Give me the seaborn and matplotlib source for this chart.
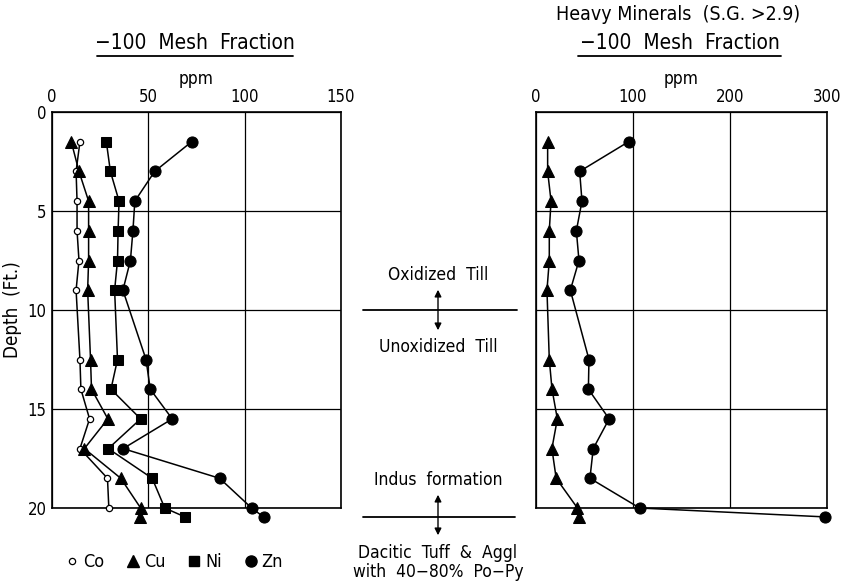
import matplotlib
matplotlib.use("Agg")
import matplotlib.pyplot as plt
import seaborn as sns
import pandas as pd
from matplotlib.lines import Line2D
from matplotlib.patches import FancyArrowPatch

# ---------------- data ----------------
depth = [1.5, 3, 4.5, 6, 7.5, 9, 12.5, 14, 15.5, 17, 18.5, 20, 20.45]
depth_co = depth[:12]

co_mesh = [14.5, 12.5, 13, 13, 14, 12.5, 14.5, 15, 19.5, 14.5, 28.8, 29.5]
cu_mesh = [10, 14, 19, 19, 19, 18.5, 20, 20.5, 29, 16.8, 35.7, 46, 45.6]
ni_mesh = [28.2, 30.3, 34.8, 34.3, 34, 32.5, 34, 30.6, 46, 29.2, 52, 58.5, 69]
zn_mesh = [72.5, 53.3, 43, 42, 40.7, 36.8, 48.8, 51, 62.4, 36.9, 87, 103.6, 109.8]

cu_heavy = [12, 12, 15.5, 13.7, 13.7, 11.3, 13.7, 16.5, 22, 16.4, 20.8, 42.7, 44.7]
zn_heavy = [95.5, 45, 47.4, 41.6, 44.3, 35.4, 54.6, 54, 75.4, 59, 55.6, 106.8, 298]

left_xticks = [0, 50, 100, 150]
right_xticks = [0, 100, 200, 300]
depth_ticks = [0, 5, 10, 15, 20]

# ---------------- style ----------------
sns.set_theme(style="white")
plt.rcParams["font.family"] = ["DejaVu Sans"]
plt.rcParams["font.stretch"] = "condensed"
for k in ("axes.edgecolor", "text.color", "xtick.color", "ytick.color", "axes.labelcolor"):
    plt.rcParams[k] = "black"

W, H = 844, 584
fig = plt.figure(figsize=(W / 100, H / 100), dpi=100)

def fx(px):
    return px / W

def fy(py):
    return 1 - py / H

ax1 = fig.add_axes([fx(52), fy(508), fx(341) - fx(52), fy(112) - fy(508)])
ax2 = fig.add_axes([fx(536), fy(508), fx(827) - fx(536), fy(112) - fy(508)])

styles = {
    "Co": dict(marker="o", markersize=4.5, markerfacecolor="white", markeredgecolor="black", markeredgewidth=0.9),
    "Cu": dict(marker="^", markersize=9, markerfacecolor="black", markeredgecolor="black"),
    "Ni": dict(marker="s", markersize=7.5, markerfacecolor="black", markeredgecolor="black"),
    "Zn": dict(marker="o", markersize=8, markerfacecolor="black", markeredgecolor="black"),
}

def draw(ax, x, y, name):
    df = pd.DataFrame({"ppm": x, "depth": y})
    sns.lineplot(data=df, x="ppm", y="depth", orient="y", sort=False, ax=ax,
                 color="black", lw=1.1, clip_on=False, zorder=5, **styles[name])

draw(ax1, co_mesh, depth_co, "Co")
draw(ax1, cu_mesh, depth, "Cu")
draw(ax1, ni_mesh, depth, "Ni")
draw(ax1, zn_mesh, depth, "Zn")

draw(ax2, cu_heavy, depth, "Cu")
draw(ax2, zn_heavy, depth, "Zn")

for ax, xt in ((ax1, left_xticks), (ax2, right_xticks)):
    ax.set_xlim(xt[0], xt[-1])
    ax.set_ylim(20, 0)
    ax.set_xticks(xt)
    ax.set_yticks(depth_ticks)
    ax.xaxis.tick_top()
    ax.xaxis.set_label_position("top")
    ax.set_xlabel("ppm", fontsize=12.5, labelpad=3)
    ax.tick_params(axis="both", length=0, labelsize=12, pad=4)
    ax.grid(True, color="black", lw=0.9)
    ax.set_axisbelow(True)
    for s in ax.spines.values():
        s.set_visible(True)
        s.set_color("black")
        s.set_linewidth(1.2)

ax1.set_ylabel("Depth  (Ft.)", fontsize=13.5)
ax1.yaxis.set_label_coords(-0.104, 0.5)
ax2.set_ylabel("")
ax2.set_yticklabels([])

# ---------------- titles ----------------
fig.text(fx(195), fy(43), "\u2212100  Mesh  Fraction", ha="center", va="center", fontsize=15)
fig.add_artist(Line2D([fx(97), fx(293)], [fy(56), fy(56)], color="black", lw=1.3))
fig.text(fx(678), fy(15), "Heavy Minerals  (S.G. >2.9)", ha="center", va="center", fontsize=14)
fig.text(fx(680), fy(43), "\u2212100  Mesh  Fraction", ha="center", va="center", fontsize=15)
fig.add_artist(Line2D([fx(578), fx(781)], [fy(56), fy(56)], color="black", lw=1.3))

# ---------------- middle annotations ----------------
cx = 438
fs_mid = 12.5
fig.text(fx(cx), fy(275), "Oxidized  Till", ha="center", va="center", fontsize=fs_mid)
fig.add_artist(Line2D([fx(363), fx(517)], [fy(310), fy(310)], color="black", lw=1.3))
fig.add_artist(FancyArrowPatch((fx(cx), fy(287)), (fx(cx), fy(333)), transform=fig.transFigure,
                               arrowstyle="<|-|>", mutation_scale=10, color="black", lw=1.0))
fig.text(fx(cx), fy(347), "Unoxidized  Till", ha="center", va="center", fontsize=fs_mid)

fig.text(fx(cx), fy(480), "Indus  formation", ha="center", va="center", fontsize=fs_mid)
fig.add_artist(Line2D([fx(363), fx(515)], [fy(517), fy(517)], color="black", lw=1.3))
fig.add_artist(FancyArrowPatch((fx(cx), fy(492)), (fx(cx), fy(538)), transform=fig.transFigure,
                               arrowstyle="<|-|>", mutation_scale=10, color="black", lw=1.0))
fig.text(fx(cx), fy(553), "Dacitic  Tuff  &  Aggl", ha="center", va="center", fontsize=fs_mid)
fig.text(fx(cx), fy(572), "with  40\u221280%  Po\u2212Py", ha="center", va="center", fontsize=fs_mid)

# ---------------- legend ----------------
names = ["Co", "Cu", "Ni", "Zn"]
handles = [Line2D([], [], linestyle="none", **styles[n]) for n in names]
fig.legend(handles, names, loc="center", bbox_to_anchor=(fx(174), fy(562)), ncol=4,
           frameon=False, fontsize=13, handlelength=0.8, handletextpad=0.2,
           columnspacing=1.2, borderpad=0)

fig.savefig("out.png", dpi=100)
